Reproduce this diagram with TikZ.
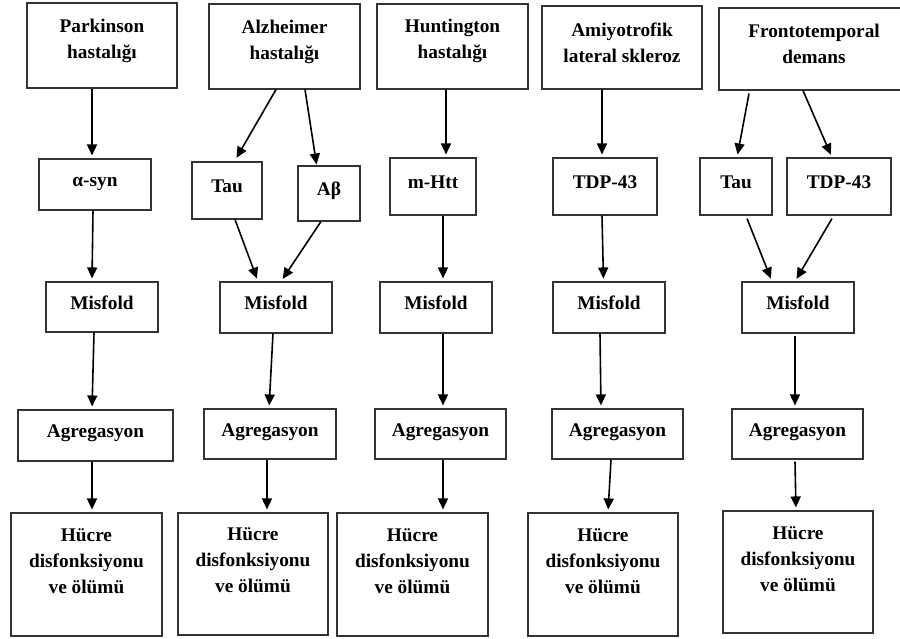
\documentclass[tikz,border=0pt]{standalone}
\usepackage{fontspec}
\setmainfont{Liberation Serif}
\usetikzlibrary{arrows.meta}
\begin{document}
\begin{tikzpicture}[x=1pt,y=-1pt,
  box/.style={draw=black!80, line width=1.1pt, inner sep=0pt,
    text height=13.5pt, text depth=9pt,
    font=\bfseries\fontsize{19.3}{26}\selectfont},
  txt/.style={inner sep=0pt, align=center, font=\bfseries\fontsize{19.3}{26}\selectfont},
  arr/.style={line width=1.6pt, -{Triangle[width=10pt,length=11pt]}, shorten >=3pt}]
\clip (0,0) rectangle (900,639);
\fill[white] (0,0) rectangle (900,639);
% ---------- column 1: Parkinson
\node[box,minimum width=150pt,minimum height=85pt] (p1) at (102,45.5) {};
\node[txt] (p1t) at ([yshift=5pt]p1.center) {Parkinson\\hastalığı};
\node[box,minimum width=112pt,minimum height=51pt] (p2) at (95,184.5) {α-syn};
\node[box,minimum width=112pt,minimum height=50pt] (p3) at (102,307) {Misfold};
\node[box,minimum width=155pt,minimum height=51pt] (p4) at (95.5,435.5) {Agregasyon};
\node[box,minimum width=151pt,minimum height=123pt] (p5) at (86.5,574.5) {};
\node[txt] (p5t) at ([yshift=13.5pt]p5.center) {Hücre\\disfonksiyonu\\ve ölümü};
\draw[arr] ([xshift=-10pt]p1.south) -- ([xshift=-3pt]p2.north);
\draw[arr] ([xshift=-2pt]p2.south) -- ([xshift=-10pt]p3.north);
\draw[arr] ([xshift=-8pt]p3.south) -- ([xshift=-3.5pt]p4.north);
\draw[arr] ([xshift=-3.5pt]p4.south) -- ([xshift=5.5pt]p5.north);
% ---------- column 2: Alzheimer
\node[box,minimum width=151pt,minimum height=85pt] (a1) at (284.5,46.5) {};
\node[txt] (a1t) at ([yshift=5pt]a1.center) {Alzheimer\\hastalığı};
\node[box,minimum width=70pt,minimum height=57pt] (a2) at (227,190.5) {Tau};
\node[box,minimum width=62pt,minimum height=55pt] (a2b) at (329,193.5) {Aβ};
\node[box,minimum width=112pt,minimum height=51pt] (a3) at (276,307.5) {Misfold};
\node[box,minimum width=132pt,minimum height=50pt] (a4) at (270,434) {Agregasyon};
\node[box,minimum width=150pt,minimum height=122pt] (a5) at (253,574) {};
\node[txt] (a5t) at ([yshift=13.5pt]a5.center) {Hücre\\disfonksiyonu\\ve ölümü};
\draw[arr] ([xshift=-8.5pt]a1.south) -- ([xshift=8pt,yshift=1pt]a2.north);
\draw[arr] ([xshift=20.5pt]a1.south) -- ([xshift=-12pt,yshift=-2pt]a2b.north);
\draw[arr] ([xshift=8pt]a2.south) -- ([xshift=-18pt]a3.north);
\draw[arr] ([xshift=-8pt]a2b.south) -- ([xshift=5pt]a3.north);
\draw[arr] ([xshift=-3pt]a3.south) -- ([xshift=-1pt]a4.north);
\draw[arr] ([xshift=-3pt]a4.south) -- ([xshift=14pt]a5.north);
% ---------- column 3: Huntington
\node[box,minimum width=151pt,minimum height=85pt] (h1) at (452.5,46.5) {};
\node[txt] (h1t) at ([yshift=5.5pt]h1.center) {Huntington\\hastalığı};
\node[box,minimum width=86pt,minimum height=57pt] (h2) at (433,186.5) {m-Htt};
\node[box,minimum width=112pt,minimum height=51pt] (h3) at (436,307.5) {Misfold};
\node[box,minimum width=131pt,minimum height=50pt] (h4) at (440.5,434) {Agregasyon};
\node[box,minimum width=151pt,minimum height=123pt] (h5) at (412.5,574.5) {};
\node[txt] (h5t) at ([yshift=13.5pt]h5.center) {Hücre\\disfonksiyonu\\ve ölümü};
\draw[arr] ([xshift=-6.5pt]h1.south) -- ([xshift=13pt]h2.north);
\draw[arr] ([xshift=10pt]h2.south) -- ([xshift=7pt]h3.north);
\draw[arr] ([xshift=7pt]h3.south) -- ([xshift=2.5pt]h4.north);
\draw[arr] ([xshift=2.5pt]h4.south) -- ([xshift=30.5pt]h5.north);
% ---------- column 4: ALS
\node[box,minimum width=160pt,minimum height=83pt] (l1) at (622,47.5) {};
\node[txt] (l1t) at ([yshift=5pt]l1.center) {Amiyotrofik\\lateral skleroz};
\node[box,minimum width=104pt,minimum height=57pt] (l2) at (605,186.5) {TDP-43};
\node[box,minimum width=112pt,minimum height=51pt] (l3) at (609,307.5) {Misfold};
\node[box,minimum width=131pt,minimum height=50pt] (l4) at (617.5,434) {Agregasyon};
\node[box,minimum width=150pt,minimum height=123pt] (l5) at (603,574.5) {};
\node[txt] (l5t) at ([yshift=13.5pt]l5.center) {Hücre\\disfonksiyonu\\ve ölümü};
\draw[arr] ([xshift=-20pt]l1.south) -- ([xshift=-3pt]l2.north);
\draw[arr] ([xshift=-3pt]l2.south) -- ([xshift=-5.5pt]l3.north);
\draw[arr] ([xshift=-9pt]l3.south) -- ([xshift=-16.5pt]l4.north);
\draw[arr] ([xshift=-6.5pt]l4.south) -- ([xshift=5pt]l5.north);
% ---------- column 5: FTD
\node[box,minimum width=190pt,minimum height=82pt] (f1) at (814,49) {};
\node[txt] (f1t) at ([yshift=5.5pt]f1.center) {Frontotemporal\\demans};
\node[box,minimum width=72pt,minimum height=57pt] (f2) at (736,186.5) {Tau};
\node[box,minimum width=104pt,minimum height=57pt] (f2b) at (839,186.5) {TDP-43};
\node[box,minimum width=112pt,minimum height=51pt] (f3) at (798,307.5) {Misfold};
\node[box,minimum width=131pt,minimum height=50pt] (f4) at (797.5,434) {Agregasyon};
\node[box,minimum width=150pt,minimum height=122pt] (f5) at (798,572) {};
\node[txt] (f5t) at ([yshift=12.5pt]f5.center) {Hücre\\disfonksiyonu\\ve ölümü};
\draw[arr] ([xshift=-65pt,yshift=-3pt]f1.south) -- ([xshift=1pt]f2.north);
\draw[arr] ([xshift=-11pt]f1.south) -- ([xshift=-7pt]f2b.north);
\draw[arr] ([xshift=11pt,yshift=-3pt]f2.south) -- ([xshift=-26pt]f3.north);
\draw[arr] ([xshift=-7pt,yshift=-3pt]f2b.south) -- ([xshift=-3pt]f3.north);
\draw[arr] ([xshift=-3pt,yshift=-2pt]f3.south) -- ([xshift=-2.5pt]f4.north);
\draw[arr] ([xshift=-2.5pt,yshift=-2pt]f4.south) -- ([xshift=-2pt]f5.north);
\end{tikzpicture}
\end{document}
